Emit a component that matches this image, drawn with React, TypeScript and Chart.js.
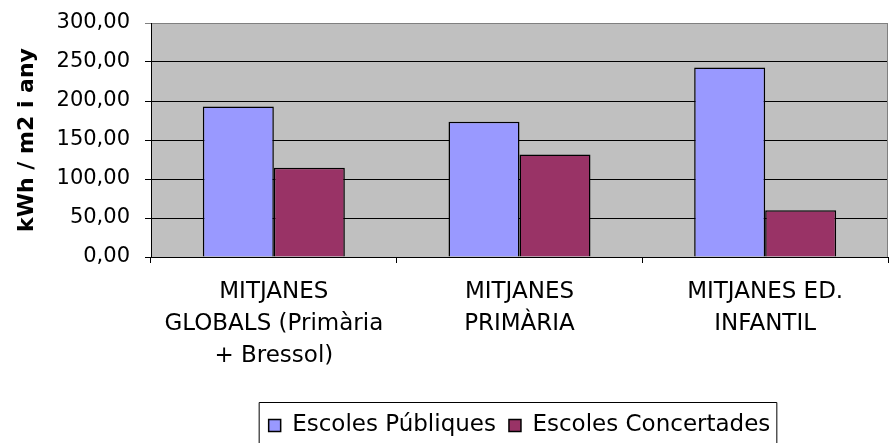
import React, { useEffect, useRef } from "react";
import { Chart, registerables } from "chart.js";

Chart.register(...registerables);

const categories: string[][] = [
  ["MITJANES", "GLOBALS (Primària", "+ Bressol)"],
  ["MITJANES", "PRIMÀRIA"],
  ["MITJANES ED.", "INFANTIL"],
];
const publiques: number[] = [193, 173.5, 243];
const concertades: number[] = [114.5, 131.5, 60];
const seriesNames: string[] = ["Escoles Públiques", "Escoles Concertades"];
const yTitle = "kWh / m2 i any";

const FONT = "'DejaVu Sans', sans-serif";

const bgPlugin = {
  id: "plotBg",
  beforeDraw(chart: any) {
    const { ctx, chartArea } = chart;
    ctx.save();
    ctx.fillStyle = "#C0C0C0";
    ctx.fillRect(chartArea.left, chartArea.top, chartArea.right - chartArea.left, chartArea.bottom - chartArea.top);
    ctx.restore();
  },
  afterDraw(chart: any) {
    const { ctx, chartArea } = chart;
    ctx.save();
    ctx.strokeStyle = "#808080";
    ctx.lineWidth = 1;
    ctx.beginPath();
    ctx.moveTo(chartArea.right - 0.5, chartArea.top);
    ctx.lineTo(chartArea.right - 0.5, chartArea.bottom);
    ctx.stroke();
    const lg = chart.legend;
    if (lg && lg.legendHitBoxes && lg.legendHitBoxes.length) {
      const boxes = lg.legendHitBoxes;
      let l = Infinity, r = -Infinity;
      for (const b of boxes) {
        l = Math.min(l, b.left);
        r = Math.max(r, b.left + b.width);
      }
      ctx.strokeStyle = "#000";
      ctx.beginPath();
      ctx.moveTo(l - 10 + 0.5, chart.height + 5);
      ctx.lineTo(l - 10 + 0.5, lg.top + 1.5);
      ctx.lineTo(r + 6 + 0.5, lg.top + 1.5);
      ctx.lineTo(r + 6 + 0.5, chart.height + 5);
      ctx.stroke();
    }
    ctx.restore();
  },
};

export default function App() {
  const ref = useRef<HTMLCanvasElement>(null);
  useEffect(() => {
    if (!ref.current) return;
    const chart = new Chart(ref.current, {
      type: "bar",
      data: {
        labels: categories,
        datasets: [
          {
            label: seriesNames[0],
            data: publiques,
            backgroundColor: "#9999FF",
            borderColor: "#000000",
            borderWidth: 1.5,
          },
          {
            label: seriesNames[1],
            data: concertades,
            backgroundColor: "#993366",
            borderColor: "#000000",
            borderWidth: 1.5,
          },
        ],
      },
      options: {
        responsive: false,
        animation: false,
        devicePixelRatio: 1,
        layout: { padding: { top: 23, right: 2, left: 0, bottom: -4 } },
        datasets: { bar: { categoryPercentage: 0.578, barPercentage: 1 } },
        plugins: {
          tooltip: { enabled: false },
          legend: {
            position: "bottom",
            fullSize: false,
            labels: {
              boxWidth: 12,
              boxHeight: 12,
              padding: 13,
              color: "#000",
              font: { family: FONT, size: 23 },
            },
          },
        },
        scales: {
          x: {
            afterFit(scale: any) {
              scale.height = 144;
              scale.paddingLeft = 0;
              scale.paddingRight = 0;
            },
            grid: {
              offset: true,
              drawOnChartArea: false,
              tickLength: 6,
              color: "#000",
            },
            border: { color: "#000", width: 1 },
            ticks: {
              color: "#000",
              padding: 13,
              maxRotation: 0,
              autoSkip: false,
              font: { family: FONT, size: 23, lineHeight: "32px" },
            },
          },
          y: {
            min: 0,
            max: 300,
            afterFit(scale: any) {
              scale.width = 151;
              scale.paddingTop = 0;
              scale.paddingBottom = 0;
            },
            grid: {
              tickLength: 6,
              color: (c: any) => (c.tick && c.tick.value === 300 ? "#808080" : "#000"),
            },
            border: { color: "#000", width: 1 },
            ticks: {
              stepSize: 50,
              color: "#000",
              padding: 15,
              font: { family: FONT, size: 21 },
              callback: (v: any) => Number(v).toFixed(2).replace(".", ","),
            },
            title: {
              display: true,
              text: yTitle,
              color: "#000",
              padding: { top: 14, bottom: 0 },
              font: { family: FONT, size: 22, weight: "bold" },
            },
          },
        },
      },
      plugins: [bgPlugin],
    });
    return () => chart.destroy();
  }, []);
  return (
    <div style={{ position: "absolute", left: 0, top: 0, width: 890, height: 443, background: "#fff" }}>
      <canvas ref={ref} width={890} height={443} />
    </div>
  );
}
